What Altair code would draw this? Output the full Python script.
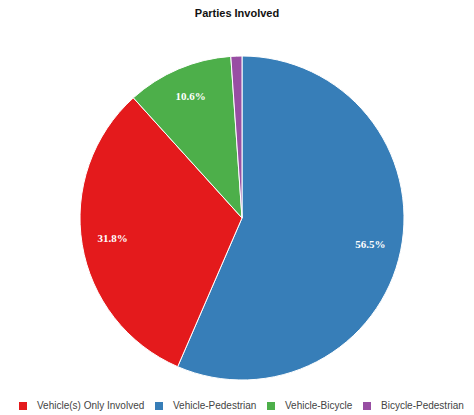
import altair as alt
import pandas as pd

legend_order = ["Vehicle(s) Only Involved", "Vehicle-Pedestrian", "Vehicle-Bicycle", "Bicycle-Pedestrian"]
colors = ["#e41a1c", "#377eb8", "#4daf4a", "#984ea3"]

slice_order = ["Vehicle-Pedestrian", "Vehicle(s) Only Involved", "Vehicle-Bicycle", "Bicycle-Pedestrian"]
percent = [56.5, 31.8, 10.6, 1.1]
labels = ["56.5%", "31.8%", "10.6%", ""]

df = pd.DataFrame({
    "party": slice_order,
    "pct": percent,
    "label": labels,
    "rank": list(range(len(slice_order))),
})

W, H = 458, 370
cx, cy = 234, 193

base = alt.Chart(df).encode(
    theta=alt.Theta("pct:Q", stack=True),
    order=alt.Order("rank:Q"),
)

arcs = base.mark_arc(radius=162, stroke="white", strokeWidth=1).encode(
    x=alt.value(cx),
    y=alt.value(cy),
    color=alt.Color(
        "party:N",
        scale=alt.Scale(domain=legend_order, range=colors),
        sort=legend_order,
        legend=alt.Legend(
            title=None,
            orient="none",
            direction="horizontal",
            legendX=10,
            legendY=376,
            padding=0,
            symbolType="square",
            symbolSize=64,
            symbolStrokeWidth=0,
            labelFont="Liberation Sans",
            labelFontSize=10,
            labelColor="#444444",
            labelOffset=9,
            columnPadding=9,
        ),
    ),
)

text = base.mark_text(
    radius=131,
    font="Liberation Serif",
    fontSize=11,
    fontWeight="bold",
    fill="white",
).encode(
    x=alt.value(cx),
    y=alt.value(cy),
    text="label:N",
)

chart = alt.layer(arcs, text).properties(
    width=W,
    height=H,
    padding={"left": 0, "top": 0, "right": 0, "bottom": 0},
    title=alt.TitleParams(
        "Parties Involved",
        font="Liberation Sans",
        fontSize=11,
        fontWeight="bold",
        color="#111111",
        anchor="middle",
        offset=4,
        dy=-2,
    ),
).configure_view(stroke=None)

chart.save("out.html", embed_options={"renderer": "svg", "actions": False})
